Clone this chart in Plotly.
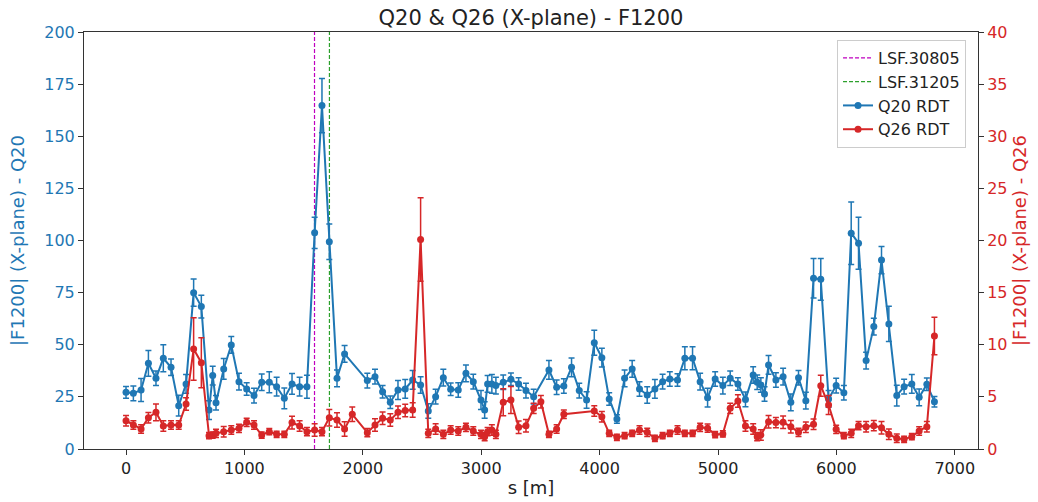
import plotly.graph_objects as go

# ---------------- data ----------------
q20_s = [0, 62, 127, 189, 253, 315, 380, 445, 507, 571,
         636, 701, 732, 760, 825, 889, 954, 1019, 1081, 1146,
         1210, 1272, 1337, 1402, 1466, 1528, 1593, 1655, 1717, 1782,
         1846, 2038, 2103, 2167, 2232, 2297, 2358, 2421, 2488, 2553,
         2615, 2680, 2742, 2806, 2871, 2933, 2998, 3029, 3054, 3090,
         3124, 3186, 3251, 3316, 3378, 3443, 3572, 3637, 3698, 3763,
         3828, 3890, 3955, 4019, 4081, 4146, 4211, 4275, 4337, 4402,
         4467, 4532, 4593, 4658, 4720, 4785, 4849, 4912, 4976, 5041,
         5103, 5168, 5232, 5297, 5331, 5362, 5393, 5427, 5489, 5550,
         5615, 5680, 5742, 5807, 5868, 5934, 5998, 6063, 6125, 6187,
         6251, 6316, 6381, 6443, 6510, 6572, 6637, 6699, 6764, 6828]
q20_amp = [27.2, 26.7, 28.3, 41.1, 33.9, 43.5, 39.2, 20.8, 31.2, 75.0,
           68.3, 18.7, 35.2, 22.2, 38.4, 49.9, 32.3, 28.8, 25.6, 32.0,
           32.0, 29.9, 24.3, 31.2, 29.9, 29.9, 103.7, 164.7, 99.4, 33.9,
           45.6, 32.8, 34.7, 27.5, 22.4, 28.3, 28.8, 33.1, 30.7, 18.2,
           25.1, 34.2, 28.6, 28.3, 36.3, 32.3, 23.5, 18.7, 31.2, 31.2,
           30.4, 32.0, 33.4, 31.2, 28.0, 25.1, 37.9, 29.6, 30.2, 39.2,
           28.0, 23.5, 51.0, 43.8, 24.0, 14.4, 33.9, 38.4, 28.8, 25.9,
           28.8, 32.3, 33.6, 33.1, 43.5, 43.5, 32.3, 24.6, 33.6, 30.4,
           33.9, 31.2, 23.8, 35.5, 32.0, 30.7, 26.4, 40.3, 33.1, 34.7,
           22.4, 34.2, 23.2, 81.9, 81.4, 24.0, 30.4, 27.0, 103.5, 98.7,
           42.4, 58.7, 90.6, 60.0, 25.6, 29.9, 31.2, 24.8, 31.0, 22.7]
q20_err = [2.8, 3.5, 5.5, 6.2, 3.5, 6.5, 4.0, 5.0, 4.5, 6.5,
           5.5, 4.5, 4.5, 3.5, 5.0, 4.0, 4.0, 3.0, 3.5, 4.0,
           5.0, 4.5, 5.0, 5.0, 4.5, 5.5, 7.5, 13.0, 8.5, 4.0,
           4.0, 3.5, 3.5, 3.0, 3.0, 4.5, 4.5, 4.5, 4.0, 3.5,
           3.5, 4.0, 3.0, 3.5, 4.0, 3.5, 4.5, 4.0, 4.0, 4.5,
           4.0, 3.5, 3.0, 3.0, 3.5, 3.5, 4.5, 3.5, 3.5, 4.5,
           3.5, 4.0, 6.0, 4.5, 3.0, 2.0, 4.0, 4.0, 3.5, 4.0,
           4.5, 3.5, 3.5, 3.0, 5.5, 5.5, 4.0, 4.5, 3.5, 4.0,
           3.5, 3.0, 3.5, 4.0, 3.5, 3.5, 3.5, 4.5, 3.5, 4.0,
           4.0, 3.5, 4.0, 9.5, 10.0, 4.0, 3.5, 3.5, 15.0, 12.5,
           4.0, 4.0, 6.5, 8.5, 5.0, 3.5, 4.5, 4.0, 3.0, 2.5]

q26_s = [0, 62, 127, 189, 253, 315, 380, 445, 507, 571,
         636, 701, 732, 760, 825, 889, 954, 1019, 1081, 1146,
         1210, 1272, 1337, 1402, 1466, 1528, 1593, 1655, 1717, 1782,
         1846, 1911, 2038, 2103, 2167, 2232, 2297, 2358, 2421, 2488,
         2553, 2615, 2680, 2742, 2806, 2871, 2933, 2998, 3029, 3054,
         3090, 3124, 3186, 3251, 3316, 3378, 3443, 3504, 3572, 3637,
         3698, 3955, 4019, 4081, 4146, 4211, 4275, 4337, 4402, 4467,
         4532, 4593, 4658, 4720, 4785, 4849, 4912, 4976, 5041, 5103,
         5168, 5232, 5297, 5331, 5362, 5427, 5489, 5550, 5615, 5680,
         5742, 5807, 5868, 5934, 5998, 6063, 6125, 6187, 6251, 6316,
         6381, 6443, 6510, 6572, 6637, 6699, 6764, 6828]
q26_amp = [2.71, 2.30, 1.92, 3.00, 3.52, 2.21, 2.30, 2.30, 4.32, 9.59,
           8.28, 1.28, 1.34, 1.50, 1.66, 1.82, 1.98, 2.56, 2.30, 1.34,
           1.66, 1.41, 1.41, 2.53, 2.21, 1.66, 1.82, 1.66, 3.00, 2.78,
           1.92, 3.33, 1.57, 2.30, 2.94, 2.78, 3.52, 3.70, 3.74, 20.1,
           1.50, 1.92, 1.41, 1.82, 1.73, 2.08, 1.73, 1.41, 1.18, 1.66,
           1.82, 1.41, 4.48, 4.70, 2.08, 2.24, 3.90, 4.54, 1.41, 1.92,
           3.33, 3.65, 3.10, 1.50, 1.12, 1.28, 1.50, 1.82, 1.60, 1.03,
           1.28, 1.50, 1.82, 1.50, 1.50, 2.08, 2.00, 1.38, 1.45, 3.90,
           4.60, 2.21, 1.92, 1.18, 1.34, 2.62, 2.53, 2.56, 2.14, 1.60,
           2.08, 2.37, 6.07, 4.22, 1.89, 1.28, 1.50, 2.24, 2.14, 2.24,
           2.04, 1.41, 1.03, 0.93, 1.18, 1.73, 2.14, 10.84]
q26_err = [0.5, 0.4, 0.4, 0.5, 0.8, 0.5, 0.4, 0.4, 0.6, 3.0,
           2.4, 0.3, 0.3, 0.4, 0.5, 0.4, 0.4, 0.4, 0.4, 0.3,
           0.3, 0.3, 0.3, 0.6, 0.5, 0.4, 0.6, 0.4, 0.8, 0.7,
           0.7, 0.7, 0.4, 0.6, 0.6, 0.6, 0.6, 0.6, 0.7, 4.0,
           0.4, 0.5, 0.4, 0.4, 0.4, 0.4, 0.4, 0.4, 0.4, 0.4,
           0.5, 0.4, 1.3, 1.3, 0.6, 0.6, 0.5, 0.6, 0.3, 0.4,
           0.4, 0.5, 0.5, 0.3, 0.3, 0.3, 0.3, 0.4, 0.4, 0.3,
           0.3, 0.3, 0.4, 0.3, 0.3, 0.4, 0.4, 0.3, 0.3, 0.5,
           0.6, 0.5, 0.5, 0.4, 0.5, 0.6, 0.5, 0.6, 0.6, 0.4,
           0.5, 0.5, 1.0, 0.9, 0.4, 0.3, 0.4, 0.4, 0.5, 0.5,
           0.6, 0.5, 0.4, 0.3, 0.3, 0.4, 0.5, 1.8]

lsf_names = ["LSF.30805", "LSF.31205"]
lsf_s = [1592, 1718]
lsf_colors = ["#bf00bf", "#2ca02c"]

x_ticks = [0, 1000, 2000, 3000, 4000, 5000, 6000, 7000]
left_ticks = [0, 25, 50, 75, 100, 125, 150, 175, 200]
right_ticks = [0, 5, 10, 15, 20, 25, 30, 35, 40]

blue = "#1f77b4"
red = "#d62728"
font = "DejaVu Sans"

W, H = 1038, 502

fig = go.Figure()

for name, s, c in zip(lsf_names, lsf_s, lsf_colors):
    fig.add_trace(go.Scatter(
        x=[s, s], y=[0, 200], mode="lines", name=name,
        line=dict(color=c, width=1.2, dash="4px,2px"), yaxis="y",
    ))

fig.add_trace(go.Scatter(
    x=q20_s, y=q20_amp, mode="lines+markers", name="Q20 RDT",
    line=dict(color=blue, width=2), marker=dict(color=blue, size=7),
    error_y=dict(type="data", array=q20_err, color=blue, thickness=1.5, width=3),
    yaxis="y",
))
fig.add_trace(go.Scatter(
    x=q26_s, y=q26_amp, mode="lines+markers", name="Q26 RDT",
    line=dict(color=red, width=2), marker=dict(color=red, size=7),
    error_y=dict(type="data", array=q26_err, color=red, thickness=1.5, width=3),
    yaxis="y2",
))

axis_common = dict(
    showline=True, linecolor="#333333", linewidth=1, ticks="outside",
    ticklen=5, tickwidth=1, tickcolor="#333333", showgrid=False, zeroline=False,
    automargin=False,
)

fig.update_layout(
    width=W, height=H,
    paper_bgcolor="white", plot_bgcolor="white",
    margin=dict(l=84, r=60, t=32, b=53, autoexpand=False),
    font=dict(family=font, size=16, color="#222222"),
    title=dict(text="Q20 & Q26 (X-plane) - F1200", x=0.5, xref="paper", xanchor="center",
               y=1 - 18 / H, yref="container", yanchor="middle",
               font=dict(size=21, family=font, color="#222222")),
    xaxis=dict(range=[-355, 7196], tickvals=x_ticks, mirror=True,
               title=dict(text="s [m]", font=dict(size=18), standoff=4),
               tickfont=dict(size=16), **axis_common),
    yaxis=dict(range=[0, 200], tickvals=left_ticks,
               tickfont=dict(color=blue, size=16),
               title=dict(text="|F1200| (X-plane) - Q20", font=dict(color=blue, size=18), standoff=14),
               **axis_common),
    yaxis2=dict(range=[0, 40], tickvals=right_ticks, overlaying="y", side="right",
                tickfont=dict(color=red, size=16),
                title=dict(text="|F1200| (X-plane) - Q26", font=dict(color=red, size=18), standoff=6),
                **axis_common),
    legend=dict(x=0.9866, xanchor="right", y=0.981, yanchor="top",
                bgcolor="rgba(255,255,255,0.8)", bordercolor="#cccccc", borderwidth=1,
                font=dict(size=16, family=font, color="#222222"), tracegroupgap=0),
    showlegend=True,
)

# remove the default 8px page margin so the figure fills the window exactly
fig.write_html("out.html", config={"displayModeBar": False},
               post_script="document.body.style.margin='0';")
